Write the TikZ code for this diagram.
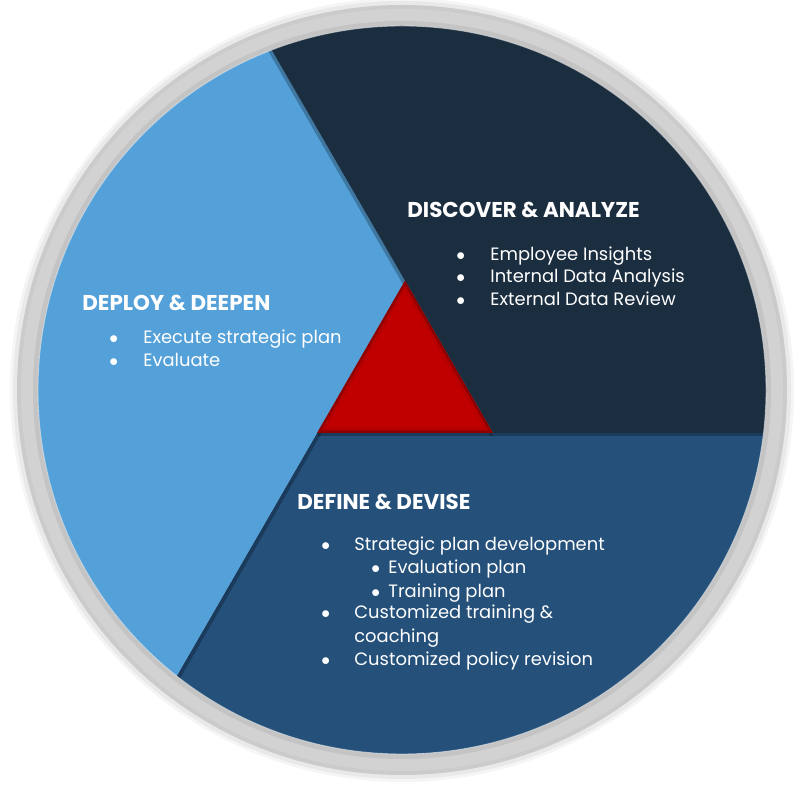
\documentclass[tikz,border=0pt]{standalone}
\usepackage{fontspec}
\setmainfont{Poppins}
\usepackage{tikz}
\usetikzlibrary{calc,shadows}
\definecolor{navy}{HTML}{1B2E40}
\definecolor{skyblue}{HTML}{54A0D8}
\definecolor{steel}{HTML}{24507A}
\definecolor{crimson}{HTML}{C00000}
\definecolor{darkred}{HTML}{8E0000}
\definecolor{ringgrey}{HTML}{CBCBCB}
\newcommand{\bulletline}[2]{\makebox[#1][l]{$\bullet$}#2}

\begin{document}
\begin{tikzpicture}[x=0.02cm, y=0.02cm,
  title/.style={anchor=base west, text=white, inner sep=0pt, font=\fontsize{12.2}{14}\selectfont\bfseries},
  item/.style={anchor=base west, text=white, inner sep=0pt, font=\fontsize{10.2}{12}\selectfont},
  cast/.style 2 args={drop shadow={shadow xshift=#1, shadow yshift=#2, opacity=0.25, fill=black}}
]
\useasboundingbox (0,0) rectangle (800,793);

% ring with soft glow
\coordinate (mid) at (402,403);
\fill[black, opacity=0.04] (mid) circle (392);
\fill[black, opacity=0.05] (mid) circle (389);
\fill[ringgrey] (mid) circle (385);
\fill[white, opacity=0.15] (mid) circle (381);
\fill[black!23] (mid) circle (369);

% red triangle corners and the extended edges
\coordinate (apex) at (405,512.4);
\coordinate (leftfoot) at (317,360);
\coordinate (rightfoot) at (493,360);
\coordinate (topend) at ($(apex)!-3!(rightfoot)$);
\coordinate (leftend) at ($(leftfoot)!-3!(apex)$);
\coordinate (centre) at ($1/3*(apex)+1/3*(leftfoot)+1/3*(rightfoot)$);

\begin{scope}
  \clip (mid) circle (364);
  \fill[steel] (leftfoot) -- (leftend) -- (900,-97.2) -- (900,360) -- (rightfoot) -- cycle;
  \fill[skyblue, cast={0.06cm}{-0.06cm}] (apex) -- (topend) -- (-100,969.6) -- (-100,-97.2) -- (leftend) -- (leftfoot) -- cycle;
  \fill[navy, cast={-0.05cm}{-0.06cm}] (apex) -- (topend) -- (900,969.6) -- (900,360) -- (rightfoot) -- cycle;
  \fill[darkred, cast={0cm}{-0.06cm}] (apex) -- (leftfoot) -- (rightfoot) -- cycle;
  \fill[crimson!80!darkred] ($(centre)!0.95!(apex)$) -- ($(centre)!0.95!(leftfoot)$) -- ($(centre)!0.95!(rightfoot)$) -- cycle;
  \fill[crimson] ($(centre)!0.89!(apex)$) -- ($(centre)!0.89!(leftfoot)$) -- ($(centre)!0.89!(rightfoot)$) -- cycle;
\end{scope}
\draw[white, opacity=0.5, line width=0.5pt] (mid) circle (364);

% discover & analyze
\node[title] (dischead) at (407,575) {DISCOVER \& ANALYZE};
\node[item] (disc1) at (456,532) {\bulletline{0.68cm}{Employee Insights}};
\node[item] (disc2) at (456,510) {\bulletline{0.68cm}{Internal Data Analysis}};
\node[item] (disc3) at (456,487) {\bulletline{0.68cm}{External Data Review}};

% deploy & deepen
\node[title] (dephead) at (82,482) {DEPLOY \& DEEPEN};
\node[item] (dep1) at (109,449) {\bulletline{0.68cm}{Execute strategic plan}};
\node[item] (dep2) at (109,426) {\bulletline{0.68cm}{Evaluate}};

% define & devise
\node[title] (defhead) at (297,283) {DEFINE \& DEVISE};
\node[item] (def1) at (321,242) {\bulletline{0.66cm}{Strategic plan development}};
\node[item] (def2) at (371,219) {\bulletline{0.34cm}{Evaluation plan}};
\node[item] (def3) at (371,195) {\bulletline{0.34cm}{Training plan}};
\node[item] (def4) at (321,174) {\bulletline{0.66cm}{Customized training \&}};
\node[item] (def5) at (354,150) {coaching};
\node[item] (def6) at (321,127) {\bulletline{0.66cm}{Customized policy revision}};
\end{tikzpicture}
\end{document}
